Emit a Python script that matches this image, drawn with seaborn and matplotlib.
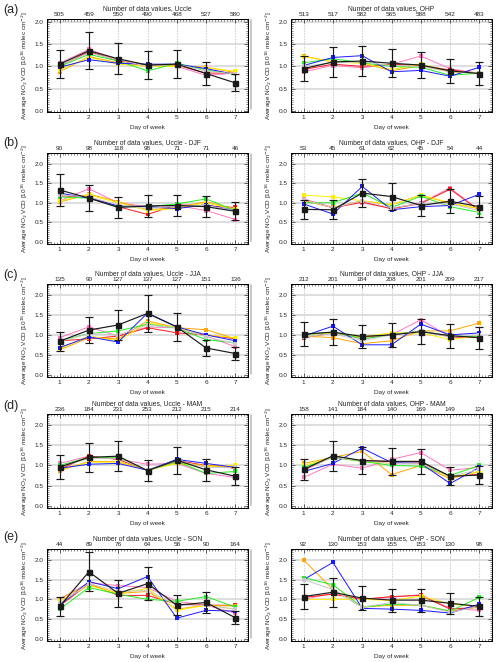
import numpy as np
import pandas as pd
import matplotlib
matplotlib.use('Agg')
import matplotlib.pyplot as plt
import seaborn as sns
from matplotlib.lines import Line2D
from matplotlib.ticker import MultipleLocator

sns.set_theme(style='white')
plt.rcParams['font.family'] = ['Liberation Sans', 'DejaVu Sans']

days = [1, 2, 3, 4, 5, 6, 7]
series_names = ['pink', 'red', 'orange', 'yellow', 'green', 'blue', 'gray']
series_colors = ['#ff77c0', '#ff1a1a', '#ffa500', '#ffee00', '#22ee22', '#1a1aff', '#c8c8c8']

# ---------------- (a) all data ----------------
uccle_all = {
    'pink':   [1.07, 1.38, 1.15, 1.00, 1.00, 0.80, 0.85],
    'red':    [1.00, 1.33, 1.13, 1.02, 1.03, 0.85, 0.85],
    'orange': [0.88, 1.22, 1.08, 1.02, 1.02, 0.98, 0.86],
    'yellow': [0.93, 1.20, 1.05, 1.00, 1.00, 0.97, 0.89],
    'green':  [1.00, 1.27, 1.12, 0.90, 1.07, 0.92, 0.82],
    'blue':   [0.98, 1.15, 1.07, 1.05, 1.05, 0.95, 0.82],
    'gray':   [1.02, 1.30, 1.15, 1.00, 1.05, 0.90, 0.83],
}
uccle_all_mean = [1.05, 1.35, 1.17, 1.03, 1.05, 0.84, 0.63]
uccle_all_err = [0.31, 0.41, 0.35, 0.31, 0.32, 0.26, 0.19]
uccle_all_n = [505, 459, 550, 490, 468, 527, 580]

ohp_all = {
    'pink':   [0.88, 1.02, 0.97, 1.05, 1.23, 0.95, 0.83],
    'red':    [0.93, 1.05, 1.00, 1.05, 1.02, 0.92, 0.85],
    'orange': [1.23, 1.10, 1.08, 0.90, 1.02, 0.88, 0.85],
    'yellow': [1.22, 1.10, 1.07, 0.93, 1.05, 0.88, 0.85],
    'green':  [1.08, 1.17, 1.08, 1.00, 0.98, 0.80, 0.85],
    'blue':   [1.02, 1.20, 1.24, 0.88, 0.91, 0.78, 0.98],
    'gray':   [1.00, 1.08, 1.10, 1.02, 1.00, 0.88, 0.85],
}
ohp_all_mean = [0.95, 1.10, 1.12, 1.07, 1.03, 0.90, 0.84]
ohp_all_err = [0.28, 0.33, 0.33, 0.31, 0.30, 0.27, 0.25]
ohp_all_n = [513, 517, 582, 565, 588, 542, 483]

# ---------------- (b) DJF ----------------
uccle_djf = {
    'pink':   [1.05, 1.36, 1.00, 0.90, 0.93, 0.80, 0.57],
    'red':    [1.18, 1.15, 0.90, 0.70, 0.95, 0.92, 0.88],
    'orange': [1.02, 1.22, 1.03, 0.82, 0.88, 1.03, 0.83],
    'yellow': [1.05, 1.20, 1.00, 0.80, 0.85, 1.00, 0.83],
    'green':  [1.15, 1.12, 0.90, 0.90, 0.97, 1.10, 0.80],
    'blue':   [1.25, 1.12, 0.92, 0.90, 0.85, 0.95, 0.80],
    'gray':   [1.20, 1.15, 0.95, 0.85, 0.92, 0.93, 0.80],
}
uccle_djf_mean = [1.33, 1.12, 0.88, 0.92, 0.93, 0.90, 0.78]
uccle_djf_err = [0.40, 0.34, 0.27, 0.28, 0.28, 0.27, 0.23]
uccle_djf_n = [90, 98, 118, 98, 71, 71, 46]

ohp_djf = {
    'pink':   [1.10, 0.88, 1.00, 0.85, 1.00, 1.38, 0.80],
    'red':    [1.08, 0.87, 1.02, 0.85, 0.98, 1.35, 0.80],
    'orange': [1.05, 0.88, 1.05, 0.95, 1.20, 0.98, 0.85],
    'yellow': [1.20, 1.15, 1.05, 0.95, 1.20, 1.00, 0.85],
    'green':  [1.00, 1.00, 1.25, 0.88, 1.17, 0.90, 0.75],
    'blue':   [0.97, 0.71, 1.42, 0.82, 0.90, 0.93, 1.22],
    'gray':   [1.08, 0.87, 1.05, 0.87, 0.98, 0.97, 0.80],
}
ohp_djf_mean = [0.83, 0.82, 1.25, 1.16, 0.93, 1.04, 0.90]
ohp_djf_err = [0.25, 0.24, 0.37, 0.34, 0.28, 0.31, 0.27]
ohp_djf_n = [53, 45, 61, 62, 45, 54, 44]

# ---------------- (c) JJA ----------------
uccle_jja = {
    'pink':   [0.93, 1.20, 0.97, 1.20, 1.18, 0.97, 0.70],
    'red':    [0.85, 0.90, 0.97, 1.18, 1.05, 1.00, 0.90],
    'orange': [0.62, 0.93, 0.90, 1.35, 1.18, 1.13, 0.90],
    'yellow': [0.65, 0.97, 0.85, 1.30, 1.18, 1.00, 0.93],
    'green':  [0.85, 1.03, 1.10, 1.27, 1.17, 0.88, 0.80],
    'blue':   [0.68, 0.95, 0.82, 1.55, 1.20, 1.00, 0.85],
    'gray':   [0.83, 1.03, 1.00, 1.25, 1.18, 0.95, 0.78],
}
uccle_jja_mean = [0.84, 1.12, 1.25, 1.54, 1.20, 0.67, 0.53]
uccle_jja_err = [0.24, 0.33, 0.38, 0.46, 0.36, 0.21, 0.17]
uccle_jja_n = [135, 90, 127, 137, 127, 151, 136]

ohp_jja = {
    'pink':   [0.92, 1.05, 0.90, 1.00, 1.38, 0.95, 0.93],
    'red':    [0.93, 1.05, 0.95, 1.00, 1.10, 0.95, 0.93],
    'orange': [0.97, 0.93, 0.78, 0.85, 1.10, 1.10, 1.30],
    'yellow': [1.00, 1.05, 0.95, 1.05, 1.05, 0.88, 0.98],
    'green':  [1.00, 1.07, 0.90, 1.00, 1.10, 0.97, 0.95],
    'blue':   [0.97, 1.22, 0.75, 0.75, 1.27, 1.00, 1.05],
    'gray':   [0.95, 1.03, 0.85, 1.00, 1.10, 0.95, 1.00],
}
ohp_jja_mean = [1.02, 1.07, 0.96, 1.00, 1.08, 0.98, 0.93]
ohp_jja_err = [0.31, 0.32, 0.29, 0.30, 0.32, 0.30, 0.28]
ohp_jja_n = [212, 201, 184, 208, 201, 209, 217]

# ---------------- (d) MAM ----------------
uccle_mam = {
    'pink':   [1.05, 1.23, 1.15, 1.03, 1.05, 0.80, 0.70],
    'red':    [0.90, 1.23, 1.15, 0.88, 1.12, 1.00, 0.93],
    'orange': [0.87, 1.10, 1.10, 0.88, 1.07, 1.00, 0.97],
    'yellow': [0.90, 1.08, 1.08, 0.88, 1.05, 0.97, 1.00],
    'green':  [1.00, 1.20, 1.20, 0.87, 1.10, 0.80, 0.85],
    'blue':   [0.93, 1.03, 1.05, 0.88, 1.15, 1.05, 0.95],
    'gray':   [0.97, 1.17, 1.18, 0.88, 1.12, 0.95, 0.95],
}
uccle_mam_mean = [0.96, 1.20, 1.23, 0.87, 1.13, 0.89, 0.73]
uccle_mam_err = [0.29, 0.36, 0.37, 0.27, 0.34, 0.27, 0.22]
uccle_mam_n = [236, 184, 231, 253, 212, 215, 214]

ohp_mam = {
    'pink':   [0.70, 1.03, 0.93, 1.15, 1.32, 0.88, 0.95],
    'red':    [0.88, 1.22, 1.12, 1.10, 1.08, 0.72, 0.78],
    'orange': [1.05, 1.20, 1.35, 0.77, 1.00, 0.67, 0.85],
    'yellow': [1.00, 1.20, 1.10, 1.05, 1.05, 0.70, 0.85],
    'green':  [0.95, 1.20, 1.10, 1.00, 0.98, 0.75, 1.00],
    'blue':   [0.85, 1.05, 1.43, 1.07, 1.05, 0.55, 0.95],
    'gray':   [0.90, 1.20, 1.12, 1.05, 1.05, 0.72, 0.90],
}
ohp_mam_mean = [0.90, 1.24, 1.12, 1.10, 1.10, 0.73, 0.76]
ohp_mam_err = [0.27, 0.37, 0.33, 0.33, 0.32, 0.22, 0.23]
ohp_mam_n = [158, 141, 184, 140, 169, 149, 124]

# ---------------- (e) SON ----------------
uccle_son = {
    'pink':   [1.00, 1.42, 1.35, 1.30, 0.95, 0.85, 0.65],
    'red':    [0.83, 1.40, 1.10, 1.10, 0.88, 0.85, 0.85],
    'orange': [1.02, 1.38, 1.15, 1.20, 0.75, 0.85, 0.83],
    'yellow': [0.95, 1.35, 1.15, 1.28, 0.72, 0.85, 0.75],
    'green':  [0.75, 1.30, 1.13, 1.00, 0.95, 1.07, 0.80],
    'blue':   [0.85, 1.45, 1.27, 1.58, 0.52, 0.72, 0.70],
    'gray':   [0.90, 1.40, 1.20, 1.22, 0.85, 0.85, 0.75],
}
uccle_son_mean = [0.82, 1.70, 1.15, 1.40, 0.85, 0.92, 0.53]
uccle_son_err = [0.25, 0.50, 0.35, 0.41, 0.25, 0.27, 0.17]
uccle_son_n = [44, 89, 76, 64, 58, 90, 164]

ohp_son = {
    'pink':   [1.00, 1.15, 1.00, 1.05, 1.12, 0.77, 0.72],
    'red':    [1.05, 1.13, 1.00, 1.07, 1.10, 0.75, 0.80],
    'orange': [2.00, 1.25, 0.80, 0.85, 0.85, 0.70, 0.80],
    'yellow': [1.00, 1.00, 1.00, 0.97, 1.08, 0.88, 0.82],
    'green':  [1.55, 1.37, 0.80, 0.88, 0.85, 0.70, 1.05],
    'blue':   [1.50, 1.94, 0.77, 0.75, 0.72, 0.65, 0.88],
    'gray':   [1.50, 1.25, 0.80, 0.92, 0.85, 0.67, 0.82],
}
ohp_son_mean = [1.07, 1.18, 1.03, 0.98, 0.98, 0.90, 0.82]
ohp_son_err = [0.32, 0.37, 0.31, 0.29, 0.29, 0.27, 0.24]
ohp_son_n = [92, 130, 153, 155, 153, 130, 98]

panel_letters = ['(a)', '(b)', '(c)', '(d)', '(e)']
left_titles = ['Number of data values, Uccle', 'Number of data values, Uccle - DJF',
               'Number of data values, Uccle - JJA', 'Number of data values, Uccle - MAM',
               'Number of data values, Uccle - SON']
right_titles = ['Number of data values, OHP', 'Number of data values, OHP - DJF',
                'Number of data values, OHP - JJA', 'Number of data values, OHP - MAM',
                'Number of data values, OHP - SON']
ytick_vals = [0.0, 0.5, 1.0, 1.5, 2.0]
ylabel = 'Average NO$_2$ VCD [10$^{16}$ molec cm$^{-2}$]'
xlabel = 'Day of week'

left_data = [
    (uccle_all, uccle_all_mean, uccle_all_err, uccle_all_n),
    (uccle_djf, uccle_djf_mean, uccle_djf_err, uccle_djf_n),
    (uccle_jja, uccle_jja_mean, uccle_jja_err, uccle_jja_n),
    (uccle_mam, uccle_mam_mean, uccle_mam_err, uccle_mam_n),
    (uccle_son, uccle_son_mean, uccle_son_err, uccle_son_n),
]
right_data = [
    (ohp_all, ohp_all_mean, ohp_all_err, ohp_all_n),
    (ohp_djf, ohp_djf_mean, ohp_djf_err, ohp_djf_n),
    (ohp_jja, ohp_jja_mean, ohp_jja_err, ohp_jja_n),
    (ohp_mam, ohp_mam_mean, ohp_mam_err, ohp_mam_n),
    (ohp_son, ohp_son_mean, ohp_son_err, ohp_son_n),
]

W, H = 500, 662
fig = plt.figure(figsize=(W / 100, H / 100), dpi=100)
fig.patch.set_facecolor('white')

row_tops = [19, 153, 284, 414, 549]
row_bots = [112, 244, 377, 508, 641]
letter_y = [10, 143, 275, 406, 537]
col_x = [(47, 248), (291, 492)]
FS = 4.6
palette = dict(zip(series_names, series_colors))


def draw_panel(ax, colored, mean, err, counts, title, ylim):
    ax.set_facecolor('white')
    ax.set_xlim(0.57, 7.43)
    ax.set_ylim(*ylim)
    for yv in ytick_vals[1:]:
        ax.axhline(yv, color='#d4d4d4', lw=1.1, zorder=0)
    for d in days:
        ax.axvline(d, color='#d4d4d4', lw=0.8, ls=(0, (1.5, 1)), zorder=0)
    df = pd.DataFrame([(name, d, v) for name in series_names
                       for d, v in zip(days, colored[name])],
                      columns=['series', 'day', 'vcd'])
    sns.lineplot(data=df, x='day', y='vcd', hue='series', hue_order=series_names,
                 palette=palette, marker='s', markersize=2.4, markeredgewidth=0,
                 linewidth=0.7, legend=False, estimator=None, sort=False, ax=ax, zorder=3)
    ax.errorbar(days, mean, yerr=err, color='#1a1a1a', lw=0.85, elinewidth=0.85,
                capsize=2.6, capthick=0.85, marker='s', markersize=3.6, zorder=5)
    ax.set_xticks(days)
    ax.set_xticklabels([str(d) for d in days])
    ax.set_yticks(ytick_vals)
    ax.set_yticklabels(['%.1f' % v for v in ytick_vals])
    ax.xaxis.set_minor_locator(MultipleLocator(0.1))
    ax.yaxis.set_minor_locator(MultipleLocator(0.05))
    ax.tick_params(axis='both', which='major', direction='in', length=3, width=0.5,
                   labelsize=FS, pad=2.5, top=False, right=True, bottom=True, left=True)
    ax.tick_params(axis='both', which='minor', direction='in', length=1.3, width=0.4,
                   top=False, right=True, bottom=True, left=True)
    ax.set_xlabel(xlabel, fontsize=FS, labelpad=3)
    ax.set_ylabel(ylabel, fontsize=FS, labelpad=3)
    for s in ax.spines.values():
        s.set_linewidth(0.6)
        s.set_color('black')
    ax2 = ax.twiny()
    ax2.set_xlim(ax.get_xlim())
    ax2.set_xticks(days)
    ax2.set_xticklabels([str(c) for c in counts])
    ax2.xaxis.set_minor_locator(MultipleLocator(0.1))
    ax2.tick_params(axis='x', which='major', direction='in', length=3, width=0.5,
                    labelsize=FS, pad=1.5)
    ax2.tick_params(axis='x', which='minor', direction='in', length=1.3, width=0.4)
    ax2.set_xlabel(title, fontsize=FS + 0.3, labelpad=1.5)
    for s in ax2.spines.values():
        s.set_linewidth(0.6)
        s.set_color('black')


for r in range(5):
    bottom = 1 - row_bots[r] / H
    height = (row_bots[r] - row_tops[r]) / H
    ylim = (-0.02, 2.06) if r == 0 else (-0.06, 2.28)
    for c, (data, titles) in enumerate([(left_data, left_titles), (right_data, right_titles)]):
        x0, x1 = col_x[c]
        ax = fig.add_axes([x0 / W, bottom, (x1 - x0) / W, height])
        colored, mean, err, counts = data[r]
        draw_panel(ax, colored, mean, err, counts, titles[r], ylim)
    fig.text(3 / W, 1 - letter_y[r] / H, panel_letters[r], fontsize=9, va='center', ha='left')
    fig.add_artist(Line2D([251 / W, 251 / W], [1 - (row_bots[r] - 3) / H, 1 - (row_tops[r] + 1) / H],
                          color='#bdbdbd', lw=1.2))

fig.savefig('out.png', dpi=100, facecolor='white')
